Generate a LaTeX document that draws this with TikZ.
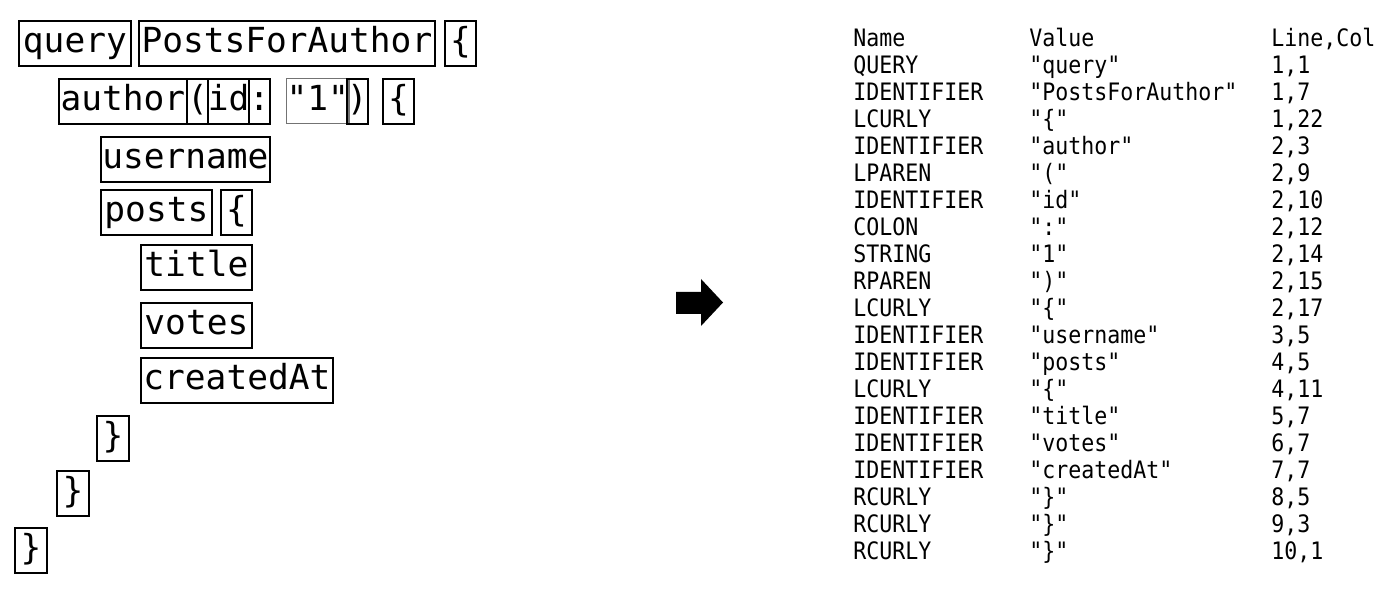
\documentclass[tikz,border=0pt]{standalone}
\usepackage{fontspec}
\newfontfamily\codefont{DejaVu Sans Mono}
\newfontfamily\tblfont[FakeStretch=0.9]{DejaVu Sans Mono}
\newcommand\tokrow[4]{%
  \node[tbl] (nm#1) at (853,{46.5+26.98*#1}) {#2};
  \node[tbl] (vl#1) at (1029,{46.5+26.98*#1}) {#3};
  \node[tbl] (lc#1) at (1271,{46.5+26.98*#1}) {#4};}
\begin{document}
\begin{tikzpicture}[x=0.5pt,y=-0.5pt,
  tok/.style={draw, line width=0.9pt, inner sep=0pt, anchor=north west,
    minimum height=22.5pt, text height=13pt, text depth=4pt,
    font=\codefont\fontsize{17.25}{20}\selectfont},
  strtok/.style={tok, draw=black!55, line width=0.6pt},
  tbl/.style={anchor=base west, inner sep=0pt,
    font=\tblfont\fontsize{12}{14}\selectfont}]
\useasboundingbox (0,0) rectangle (1400,592);
% row 1
\node[tok, minimum width=56pt]   (query)  at (18,20)  {query};
\node[tok, minimum width=148pt]  (pfa)    at (138,20) {PostsForAuthor};
\node[tok, minimum width=15.5pt] (lc1)    at (444,20) {\{};
% row 2
\node[tok, minimum width=64pt]   (author) at (58,78)  {author};
\node[tok, minimum width=10.5pt] (lpar)   at (186,78) {(};
\node[tok, minimum width=20.5pt] (id)     at (207,78) {id};
\node[tok, minimum width=10pt]   (colon)  at (248,78) {:};
\node[strtok, minimum width=30pt](str)    at (286,78) {"1"};
\node[tok, minimum width=9pt]    (rpar)   at (346,78) {)};
\node[tok, minimum width=15.5pt] (lc2)    at (382,78) {\{};
% row 3
\node[tok, minimum width=84.5pt] (username) at (100,136) {username};
% row 4
\node[tok, minimum width=55.5pt] (posts)  at (100,189) {posts};
\node[tok, minimum width=15.5pt] (lc3)    at (220,189) {\{};
% rows 5-7
\node[tok, minimum width=55.5pt] (title)  at (140,244) {title};
\node[tok, minimum width=55.5pt] (votes)  at (140,302) {votes};
\node[tok, minimum width=96pt]   (created) at (140,357) {createdAt};
% closing braces
\node[tok, minimum width=16pt]   (rc1)    at (96,415) {\}};
\node[tok, minimum width=16pt]   (rc2)    at (56,470) {\}};
\node[tok, minimum width=16pt]   (rc3)    at (14,527) {\}};
% arrow
\fill (676,292) -- (701,292) -- (701,279) -- (723,302.5) -- (701,326) -- (701,314) -- (676,314) -- cycle;
% table
\tokrow{0}{Name}{Value}{Line,Col}
\tokrow{1}{QUERY}{"query"}{1,1}
\tokrow{2}{IDENTIFIER}{"PostsForAuthor"}{1,7}
\tokrow{3}{LCURLY}{"\{"}{1,22}
\tokrow{4}{IDENTIFIER}{"author"}{2,3}
\tokrow{5}{LPAREN}{"("}{2,9}
\tokrow{6}{IDENTIFIER}{"id"}{2,10}
\tokrow{7}{COLON}{":"}{2,12}
\tokrow{8}{STRING}{"1"}{2,14}
\tokrow{9}{RPAREN}{")"}{2,15}
\tokrow{10}{LCURLY}{"\{"}{2,17}
\tokrow{11}{IDENTIFIER}{"username"}{3,5}
\tokrow{12}{IDENTIFIER}{"posts"}{4,5}
\tokrow{13}{LCURLY}{"\{"}{4,11}
\tokrow{14}{IDENTIFIER}{"title"}{5,7}
\tokrow{15}{IDENTIFIER}{"votes"}{6,7}
\tokrow{16}{IDENTIFIER}{"createdAt"}{7,7}
\tokrow{17}{RCURLY}{"\}"}{8,5}
\tokrow{18}{RCURLY}{"\}"}{9,3}
\tokrow{19}{RCURLY}{"\}"}{10,1}
\end{tikzpicture}
\end{document}
